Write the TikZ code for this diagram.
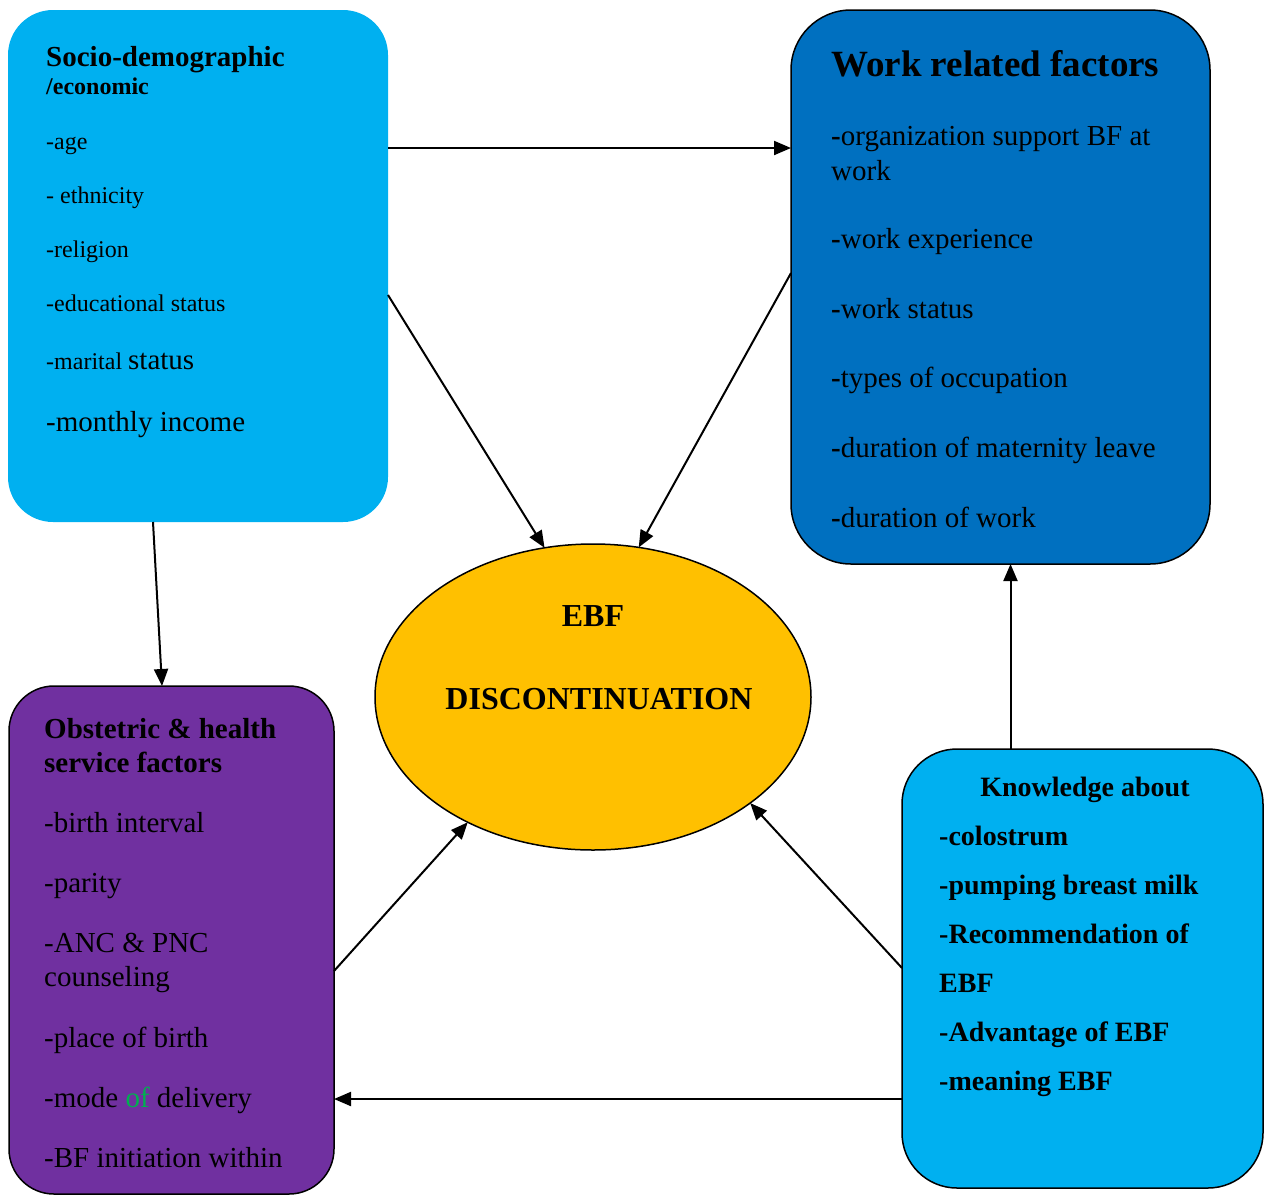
\documentclass[tikz,border=0pt]{standalone}
\usepackage{fontspec}
\setmainfont{Liberation Serif}
\usetikzlibrary{arrows.meta,shapes.geometric}
\definecolor{socioblue}{HTML}{00B0F0}
\definecolor{workblue}{HTML}{0070C0}
\definecolor{obstpurple}{HTML}{7030A0}
\definecolor{ebfyellow}{HTML}{FFC000}
\definecolor{ofgreen}{HTML}{00B050}
\newcommand{\fs}[1]{\fontsize{#1}{#1}\selectfont}
\begin{document}
\begin{tikzpicture}[x=1pt,y=-1pt,
    box/.style={draw,line width=1.5pt,rounded corners=#1,inner sep=0pt,outer sep=0pt},
    txt/.style={anchor=base west,inner sep=0pt},
    arr/.style={line width=2pt,-{Triangle[length=17pt,width=14pt]}}]
\useasboundingbox (0,0) rectangle (1264,1195);
% boxes
\node[box=45pt,draw=none,fill=socioblue,minimum width=380,minimum height=512] (socio) at (198,266) {};
\node[box=60pt,fill=workblue,minimum width=419,minimum height=554] (work) at (1000.5,287) {};
\node[box=45pt,fill=obstpurple,minimum width=325,minimum height=508] (obst) at (171.5,940) {};
\node[box=55pt,fill=socioblue,minimum width=361,minimum height=439] (know) at (1082.5,968.5) {};
\node[ellipse,draw,line width=1.5pt,fill=ebfyellow,minimum width=436,minimum height=306,inner sep=0pt,outer sep=0pt] (ebf) at (593,697) {};

% socio-demographic
\node[txt,font=\bfseries\fs{29}] (sh1) at (46,66) {Socio-demographic};
\node[txt,font=\bfseries\fs{24}] (sh2) at (46,94) {/economic};
\foreach \t/\y [count=\i] in {-age/149, - ethnicity/203, -religion/257, -educational status/311,
    -marital {\fs{29}status}/369}
  \node[txt,font=\fs{24}] (s\i) at (46,\y) {\t};
\node[txt,font=\fs{29}] (s6) at (46,431) {-monthly income};

% work related
\node[txt,font=\bfseries\fs{37}] (wh) at (831,76) {Work related factors};
\foreach \t/\y [count=\i] in {organization support BF at/145, work experience/248, work status/318,
    types of occupation/387, duration of maternity leave/457, duration of work/527}
  \node[txt,font=\fs{29}] (w\i) at (831,\y) {\textbf{-}\t};
\node[txt,font=\fs{29}] (w7) at (831,180) {work};

% obstetric
\node[txt,font=\bfseries\fs{29}] (oh1) at (44,738) {Obstetric \& health};
\node[txt,font=\bfseries\fs{29}] (oh2) at (44,772) {service factors};
\foreach \t/\y [count=\i] in {-birth interval/832, -parity/892, -ANC \& PNC/952, counseling/986,
    -place of birth/1047, -mode {\color{ofgreen}of} delivery/1107, -BF initiation within/1167}
  \node[txt,font=\fs{29}] (o\i) at (44,\y) {\t};

% knowledge
\node[anchor=base,inner sep=0pt,font=\bfseries\fs{28}] (kh) at (1085,796) {Knowledge about};
\foreach \t/\y [count=\i] in {-colostrum/845, -pumping breast milk/894, -Recommendation of/943,
    EBF/992, -Advantage of EBF/1041, -meaning EBF/1090}
  \node[txt,font=\bfseries\fs{28}] (k\i) at (939,\y) {\t};

% outcome
\node[anchor=base,inner sep=0pt,font=\bfseries\fs{32}] (e1) at (593,626) {EBF};
\node[anchor=base,inner sep=0pt,font=\bfseries\fs{32}] (e2) at (599,709) {DISCONTINUATION};

% arrows
\draw[arr] ([yshift=-138pt]socio.north east) -- ([yshift=-138pt]work.north west);
\draw[arr] ([yshift=-285pt]socio.north east) -- (ebf.108);
\draw[arr] ([yshift=-263pt]work.north west) -- (ebf.73);
\draw[arr] ([xshift=-45pt]socio.south) -- ([xshift=-9.5pt]obst.north);
\draw[arr] ([xshift=-72pt]know.north) -- ([xshift=10pt]work.south);
\draw[arr] ([yshift=-285pt]obst.north east) -- (ebf.225);
\draw[arr] ([yshift=-219pt]know.north west) -- (ebf.326);
\draw[arr] ([yshift=-350pt]know.north west) -- ([yshift=-413pt]obst.north east);
\end{tikzpicture}
\end{document}
